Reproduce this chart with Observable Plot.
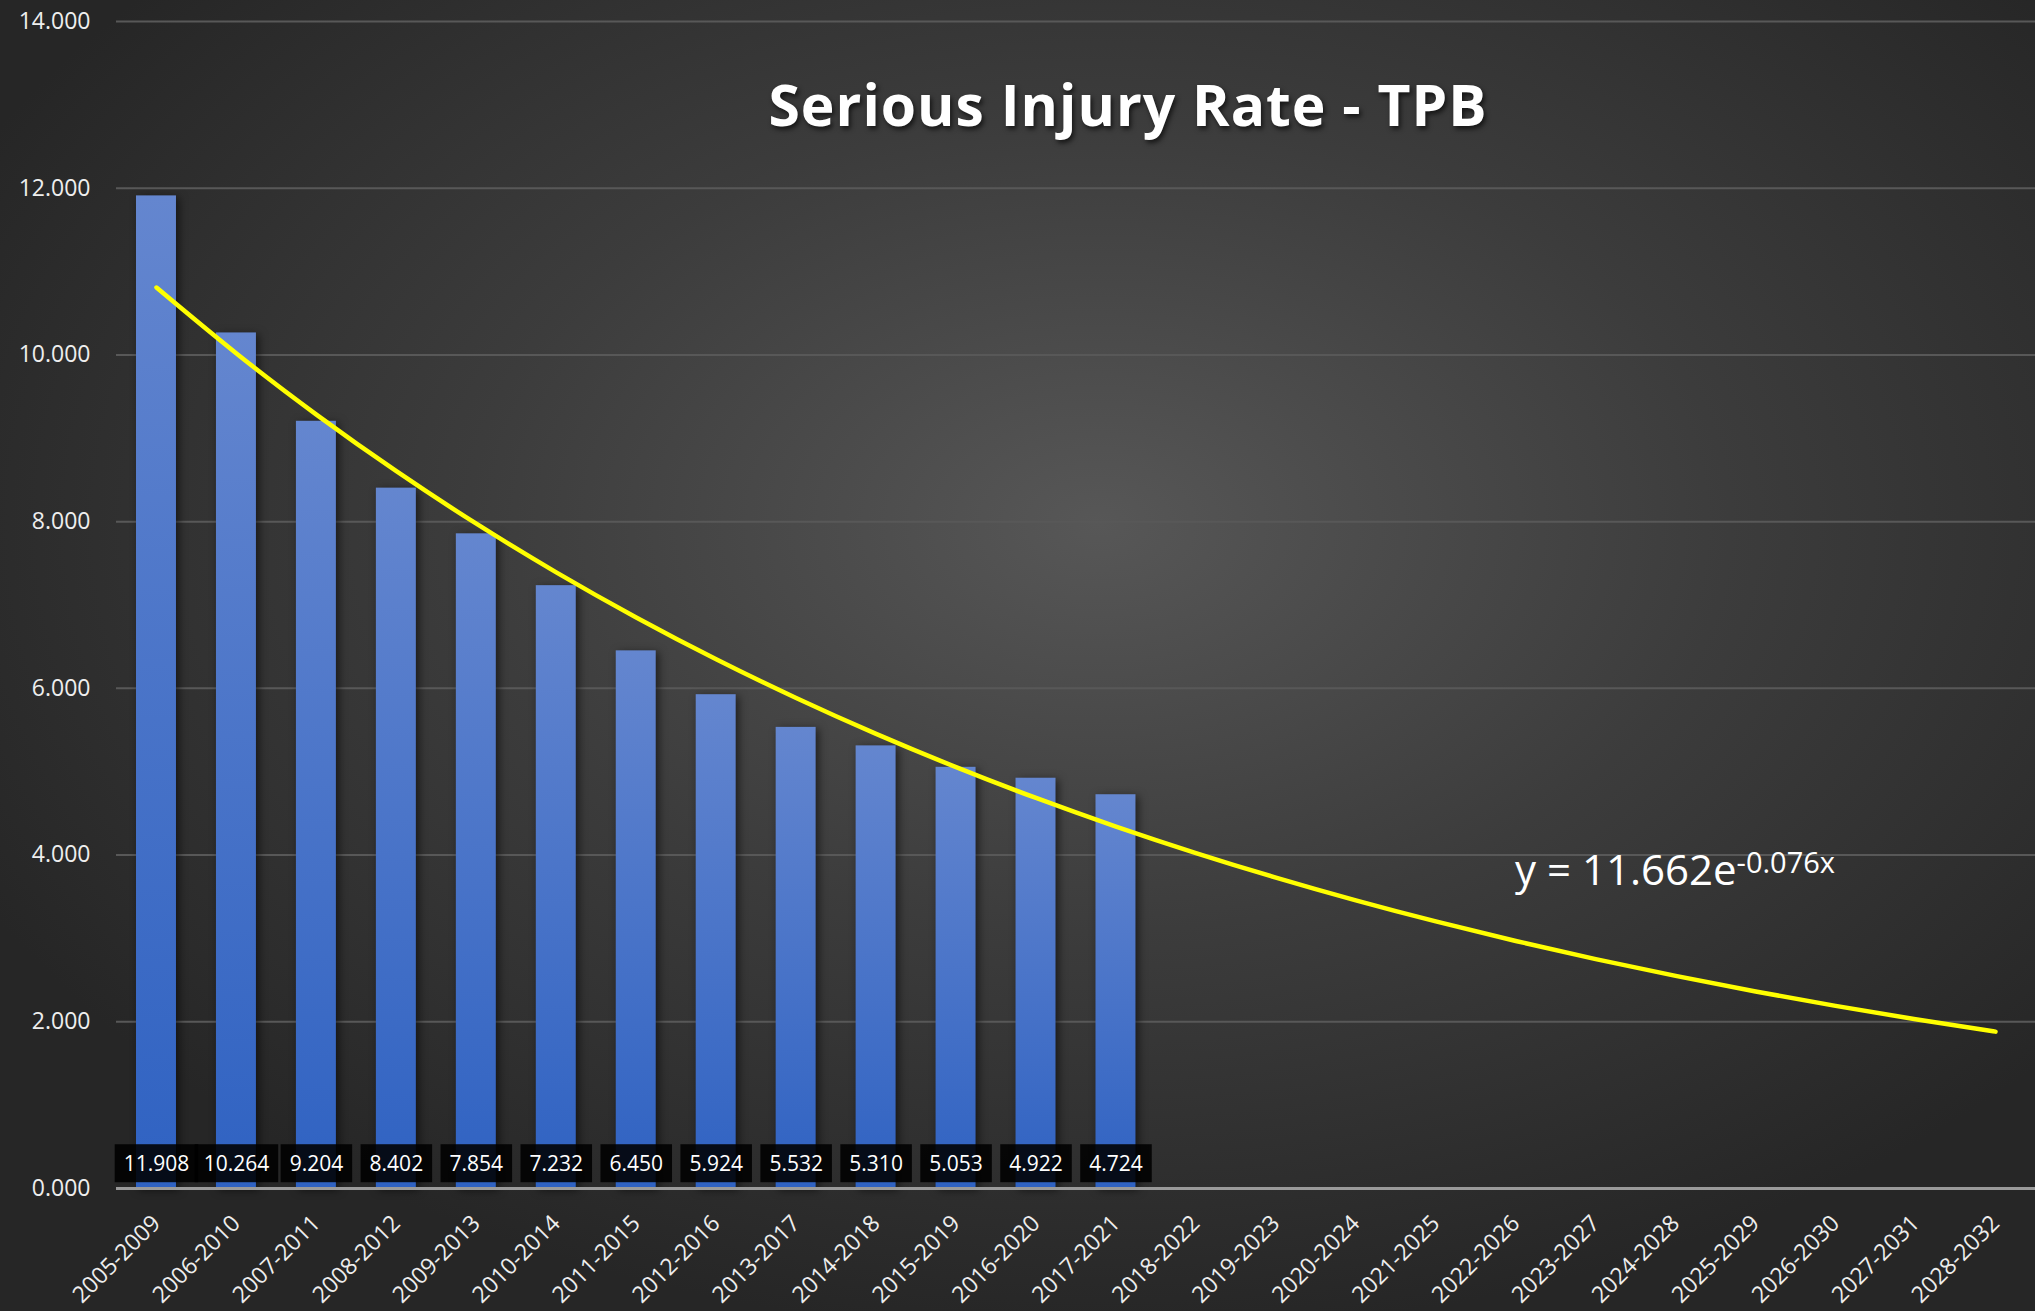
<!DOCTYPE html>
<html>
<head>
<meta charset="utf-8">
<script src="https://cdn.jsdelivr.net/npm/d3@7"></script>
<script src="https://cdn.jsdelivr.net/npm/@observablehq/plot@0.6"></script>
<style>
  html, body { margin: 0; padding: 0; overflow: hidden; }
  #wrap {
    position: relative; width: 2035px; height: 1311px;
    background: radial-gradient(ellipse 62% 62% at 54% 40%, #575757 0%, #3c3c3c 50%, #262626 100%);
    font-family: "Open Sans", sans-serif;
  }
  #title {
    position: absolute; left: 1128px; top: 76px; transform: translateX(-50%);
    font-size: 57px; line-height: 1; font-weight: 700; color: #ffffff; letter-spacing: 1px;
    white-space: nowrap; text-shadow: 2px 3px 5px rgba(0,0,0,0.65);
  }
  #eq {
    position: absolute; left: 1515px; top: 847px; font-size: 42px; line-height: 1;
    color: #ffffff; white-space: nowrap;
  }
  #eq span { font-size: 29px; vertical-align: 12px; }
  #chart { position: absolute; left: 0; top: 0; }
</style>
</head>
<body>
<div id="wrap">
  <div id="chart"></div>
  <div id="title">Serious Injury Rate - TPB</div>
  <div id="eq">y = 11.662e<span>-0.076x</span></div>
</div>
<script>
// ---- data ----
const categories = [
  "2005-2009","2006-2010","2007-2011","2008-2012","2009-2013","2010-2014",
  "2011-2015","2012-2016","2013-2017","2014-2018","2015-2019","2016-2020",
  "2017-2021","2018-2022","2019-2023","2020-2024","2021-2025","2022-2026",
  "2023-2027","2024-2028","2025-2029","2026-2030","2027-2031","2028-2032"
];
const values = [11.908, 10.264, 9.204, 8.402, 7.854, 7.232, 6.450, 5.924, 5.532, 5.310, 5.053, 4.922, 4.724];
const trendA = 11.662;   // exponential trendline coefficient (as shown on chart)
const trendB = -0.076;   // exponential trendline exponent
const yTicks = [0, 2, 4, 6, 8, 10, 12, 14];

const bars = values.map((v, i) => ({cat: categories[i], value: v}));
const trend = categories.map((c, i) => ({cat: c, value: trendA * Math.exp(trendB * (i + 1))}));

const chart = Plot.plot({
  width: 2035,
  height: 1311,
  marginLeft: 116,
  marginRight: 0,
  marginTop: 21,
  marginBottom: 123,
  style: {background: "transparent", color: "#eeeeee", fontFamily: "Open Sans, sans-serif", fontSize: "23px"},
  x: {type: "band", domain: categories, paddingInner: 0.5, paddingOuter: 0.25, round: false, label: null, tickSize: 0, tickRotate: -45, tickPadding: 16},
  y: {domain: [0, 14], ticks: yTicks, tickFormat: d => d.toFixed(3), label: null, tickSize: 0, tickPadding: 26},
  marks: [
    Plot.gridY(yTicks, {stroke: "#585858", strokeOpacity: 1, strokeWidth: 2}),
    Plot.barY(bars, {x: "cat", y: "value", fill: "#4a74c8"}),
    Plot.ruleY([0], {stroke: "#9a9a9a", strokeWidth: 3}),
    Plot.line(trend, {x: "cat", y: "value", stroke: "#ffff00", strokeWidth: 4.5, curve: "natural", strokeLinecap: "round"}),
    Plot.text(bars, {x: "cat", y: () => 0, text: d => d.value.toFixed(3), dy: -24, fill: "#ffffff", fontSize: 21})
  ]
});
document.getElementById("chart").appendChild(chart);

const svg = chart.tagName.toLowerCase() === "svg" ? chart : chart.querySelector("svg");
const ns = "http://www.w3.org/2000/svg";

// axis label sizes / placement
svg.querySelectorAll('g[aria-label="x-axis tick label"]').forEach(g => {
  g.setAttribute("font-size", "23");
  g.querySelectorAll("text").forEach(t => t.style.fontSize = "23px");
  const prev = g.getAttribute("transform") || "";
  g.setAttribute("transform", prev + " translate(0,15)");
});
svg.querySelectorAll('g[aria-label="y-axis tick label"]').forEach(g => {
  g.setAttribute("font-size", "23");
});

// gradient + shadow for bars
const defs = document.createElementNS(ns, "defs");
defs.innerHTML = '<linearGradient id="barGrad" x1="0" y1="0" x2="0" y2="1">' +
  '<stop offset="0" stop-color="#6486cf"/><stop offset="1" stop-color="#2f62c2"/></linearGradient>';
svg.insertBefore(defs, svg.firstChild);
const barG = svg.querySelector('g[aria-label="bar"]');
if (barG) {
  barG.setAttribute("fill", "url(#barGrad)");
  barG.querySelectorAll("rect").forEach(r => r.removeAttribute("fill"));
  barG.style.filter = "drop-shadow(3px 2px 4px rgba(0,0,0,0.55))";
}
// black boxes behind the data labels
const textG = svg.querySelector('g[aria-label="text"]');
if (textG) {
  textG.querySelectorAll("text").forEach(t => {
    const b = t.getBBox();
    const r = document.createElementNS(ns, "rect");
    const cy = b.y + b.height / 2;
    r.setAttribute("x", b.x - 9);
    r.setAttribute("width", b.width + 18);
    r.setAttribute("y", cy - 19);
    r.setAttribute("height", 38);
    r.setAttribute("fill", "rgba(0,0,0,0.88)");
    r.setAttribute("stroke", "none");
    if (t.getAttribute("transform")) r.setAttribute("transform", t.getAttribute("transform"));
    textG.insertBefore(r, t);
  });
}
</script>
</body>
</html>
